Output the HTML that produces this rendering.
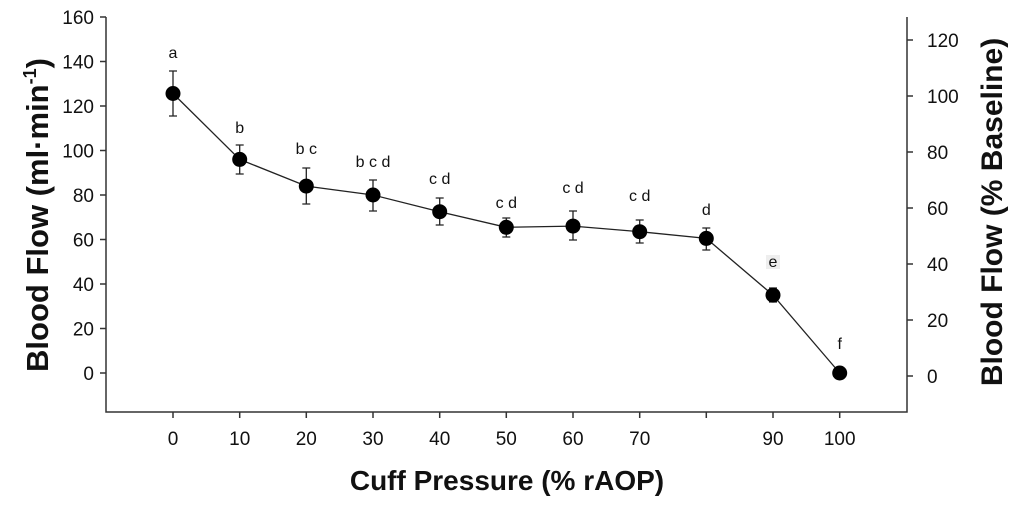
<!DOCTYPE html>
<html><head><meta charset="utf-8"><style>
html,body{margin:0;padding:0;background:#fff;}
svg text{font-family:"Liberation Sans",Arial,sans-serif;}
</style></head><body>
<svg width="1024" height="507" viewBox="0 0 1024 507" xmlns="http://www.w3.org/2000/svg">
<g stroke="#333" stroke-width="1.5" fill="none">
<path d="M106 17 V412 H907 V17"/>
<path d="M100 17H106M100 61.5H106M100 106H106M100 150.5H106M100 195H106M100 239.5H106M100 284H106M100 328.5H106M100 373H106"/>
<path d="M907 376H913M907 320H913M907 264H913M907 208H913M907 152H913M907 96H913M907 40H913"/>
<path d="M173 412V418M239.7 412V418M306.3 412V418M373 412V418M439.7 412V418M506.3 412V418M573 412V418M639.7 412V418M706.3 412V418M773 412V418M839.7 412V418"/>
</g>
<g font-size="19" fill="#111" text-anchor="end">
<text x="94" y="24">160</text><text x="94" y="68.5">140</text><text x="94" y="113">120</text><text x="94" y="157.5">100</text><text x="94" y="202">80</text><text x="94" y="246.5">60</text><text x="94" y="291">40</text><text x="94" y="335.5">20</text><text x="94" y="380">0</text>
</g>
<g font-size="19" fill="#111" text-anchor="start">
<text x="927" y="383">0</text><text x="927" y="327">20</text><text x="927" y="271">40</text><text x="927" y="215">60</text><text x="927" y="159">80</text><text x="927" y="103">100</text><text x="927" y="47">120</text>
</g>
<g font-size="19" fill="#111" text-anchor="middle">
<text x="173" y="445">0</text><text x="239.7" y="445">10</text><text x="306.3" y="445">20</text><text x="373" y="445">30</text><text x="439.7" y="445">40</text><text x="506.3" y="445">50</text><text x="573" y="445">60</text><text x="639.7" y="445">70</text><text x="773" y="445">90</text><text x="839.7" y="445">100</text>
</g>
<text x="507" y="490" font-size="28" font-weight="bold" text-anchor="middle" fill="#111">Cuff Pressure (% rAOP)</text>
<text transform="translate(48 215) rotate(-90)" font-size="31" font-weight="bold" text-anchor="middle" fill="#111">Blood Flow (ml·min<tspan font-size="18" dy="-12">-1</tspan><tspan dy="12">)</tspan></text>
<text transform="translate(1002 212) rotate(-90)" font-size="30" font-weight="bold" text-anchor="middle" fill="#111">Blood Flow (% Baseline)</text>
<polyline fill="none" stroke="#222" stroke-width="1.3" points="173,93.5 239.7,159.4 306.3,186.1 373,195 439.7,211.7 506.3,227.3 573,226.1 639.7,231.7 706.3,238.4 773,295.1 839.7,373"/>
<g stroke="#222" stroke-width="1.3">
<path d="M173 71V116M169 71H177M169 116H177"/>
<path d="M239.7 145V174M235.7 145H243.7M235.7 174H243.7"/>
<path d="M306.3 168V204M302.3 168H310.3M302.3 204H310.3"/>
<path d="M373 180V211M369 180H377M369 211H377"/>
<path d="M439.7 198V225M435.7 198H443.7M435.7 225H443.7"/>
<path d="M506.3 218V237M502.3 218H510.3M502.3 237H510.3"/>
<path d="M573 211V240M569 211H577M569 240H577"/>
<path d="M639.7 220V243M635.7 220H643.7M635.7 243H643.7"/>
<path d="M706.3 228V250M702.3 228H710.3M702.3 250H710.3"/>
<path d="M773 288V302M769 288H777M769 302H777"/>
</g>
<g fill="#000">
<circle cx="173" cy="93.5" r="7.5"/><circle cx="239.7" cy="159.4" r="7.5"/><circle cx="306.3" cy="186.1" r="7.5"/><circle cx="373" cy="195" r="7.5"/><circle cx="439.7" cy="211.7" r="7.5"/><circle cx="506.3" cy="227.3" r="7.5"/><circle cx="573" cy="226.1" r="7.5"/><circle cx="639.7" cy="231.7" r="7.5"/><circle cx="706.3" cy="238.4" r="7.5"/><circle cx="773" cy="295.1" r="7.5"/><circle cx="839.7" cy="373" r="7.5"/>
</g>
<rect x="766" y="255" width="14" height="14" fill="#eee"/>
<g font-size="16" fill="#111" text-anchor="middle">
<text x="173" y="58">a</text><text x="239.7" y="133">b</text><text x="306.3" y="154">b c</text><text x="373" y="167">b c d</text><text x="439.7" y="184">c d</text><text x="506.3" y="208">c d</text><text x="573" y="193">c d</text><text x="639.7" y="201">c d</text><text x="706.3" y="215">d</text><text x="773" y="267">e</text><text x="839.7" y="349">f</text>
</g>
</svg>
</body></html>
